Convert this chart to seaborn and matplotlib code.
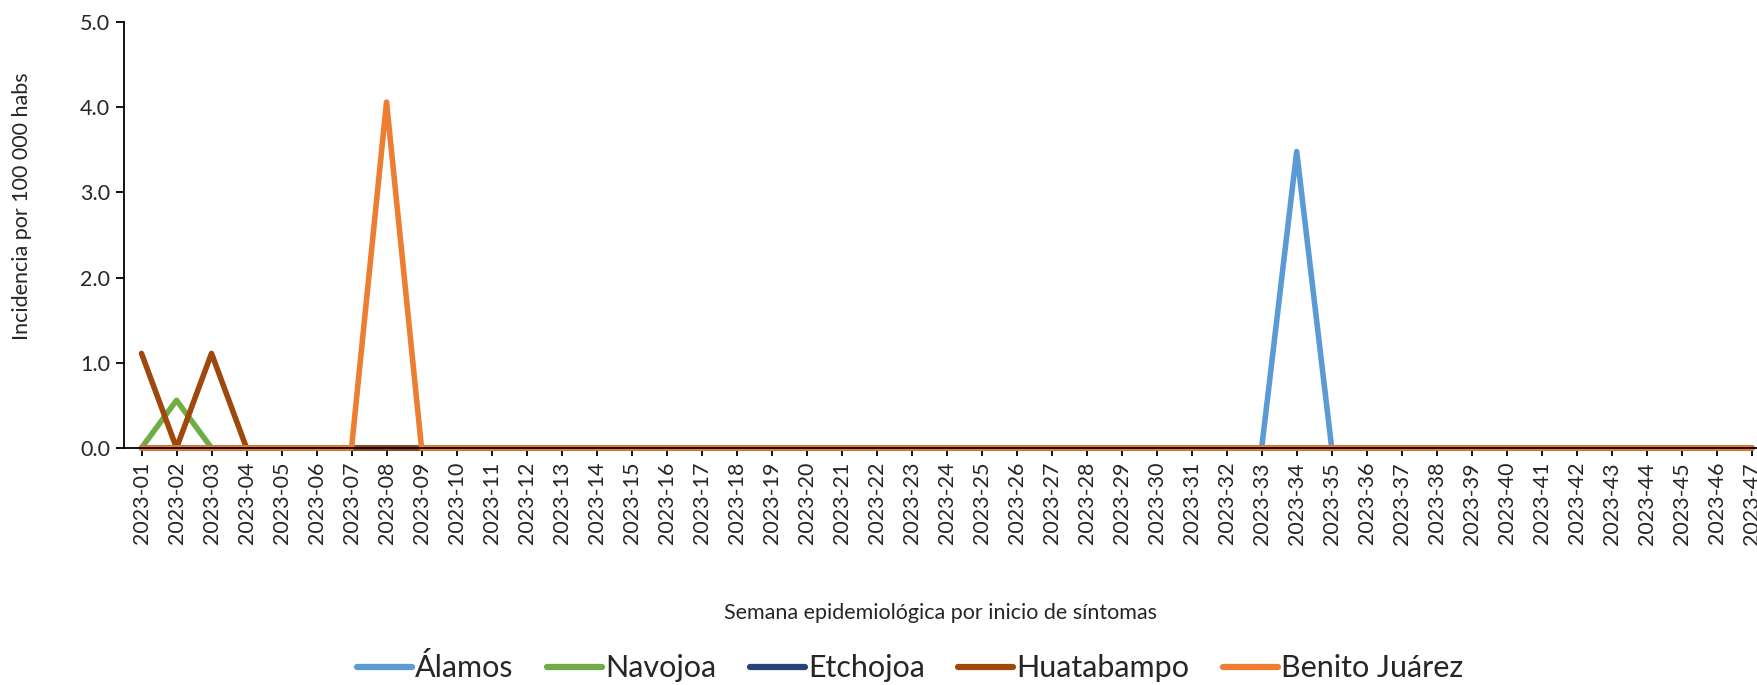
import numpy as np
import pandas as pd
import matplotlib
matplotlib.use("Agg")
import matplotlib.pyplot as plt
import seaborn as sns
from matplotlib.ticker import FormatStrFormatter

weeks = [f"2023-{i:02d}" for i in range(1, 48)]
series_names = ["Álamos", "Navojoa", "Etchojoa", "Huatabampo", "Benito Juárez"]
colors = ["#5B9BD5", "#70AD47", "#264478", "#9E480E", "#ED7D31"]

alamos = [0.0] * 47
alamos[33] = 3.48
navojoa = [0.0] * 47
navojoa[1] = 0.56
etchojoa = [0.0] * 47
huatabampo = [0.0] * 47
huatabampo[0] = 1.11
huatabampo[2] = 1.11
benito = [0.0] * 47
benito[7] = 4.06

values = [alamos, navojoa, etchojoa, huatabampo, benito]

rows = []
for name, vals in zip(series_names, values):
    for i, v in enumerate(vals):
        rows.append({"idx": i + 1, "Municipio": name, "val": v})
df = pd.DataFrame(rows)

sns.set_theme(style="white")
plt.rcParams['font.family'] = ['Lato', 'DejaVu Sans']

fig = plt.figure(figsize=(17.57, 6.85), dpi=100)
ax = fig.add_axes([124 / 1757, 1 - 448 / 685, 1 - 124 / 1757, (448 - 22) / 685])

sns.lineplot(data=df, x="idx", y="val", hue="Municipio", hue_order=series_names,
             palette=colors, linewidth=4, ax=ax, sort=False, legend=True,
             solid_capstyle="round", solid_joinstyle="round", clip_on=False)

ax.set_xlim(0.5, 47.15)
ax.set_ylim(0, 5.0)
ax.set_yticks(np.arange(0, 5.01, 1.0))
ax.yaxis.set_major_formatter(FormatStrFormatter("%.1f"))
ax.set_xticks(range(1, 48))
ax.set_xticklabels(weeks, rotation=90)

for s in ["top", "right"]:
    ax.spines[s].set_visible(False)
for s in ["left", "bottom"]:
    ax.spines[s].set_color("black")
    ax.spines[s].set_linewidth(1.3)

ax.tick_params(axis="y", which="major", direction="out", length=6, width=1.3,
               color="black", labelsize=15.5, left=True, pad=4)
ax.tick_params(axis="x", which="major", direction="out", length=6, width=1.3,
               color="black", labelsize=15.5, bottom=True, pad=4)

ax.set_xlabel("Semana epidemiológica por inicio de síntomas", fontsize=15.5, labelpad=42)
ax.set_ylabel("")
fig.text(22 / 1757, 1 - 206 / 685, "Incidencia por 100 000 habs", rotation=90,
         ha="center", va="center", fontsize=15.5)

leg = ax.legend(loc="center", bbox_to_anchor=(910 / 1757, 0.025),
                bbox_transform=fig.transFigure, ncol=5, frameon=False,
                fontsize=22, handlelength=1.8, columnspacing=1.1, handletextpad=0.1)
for h in leg.get_lines():
    h.set_linewidth(4.5)

fig.savefig("out.png", dpi=100)
